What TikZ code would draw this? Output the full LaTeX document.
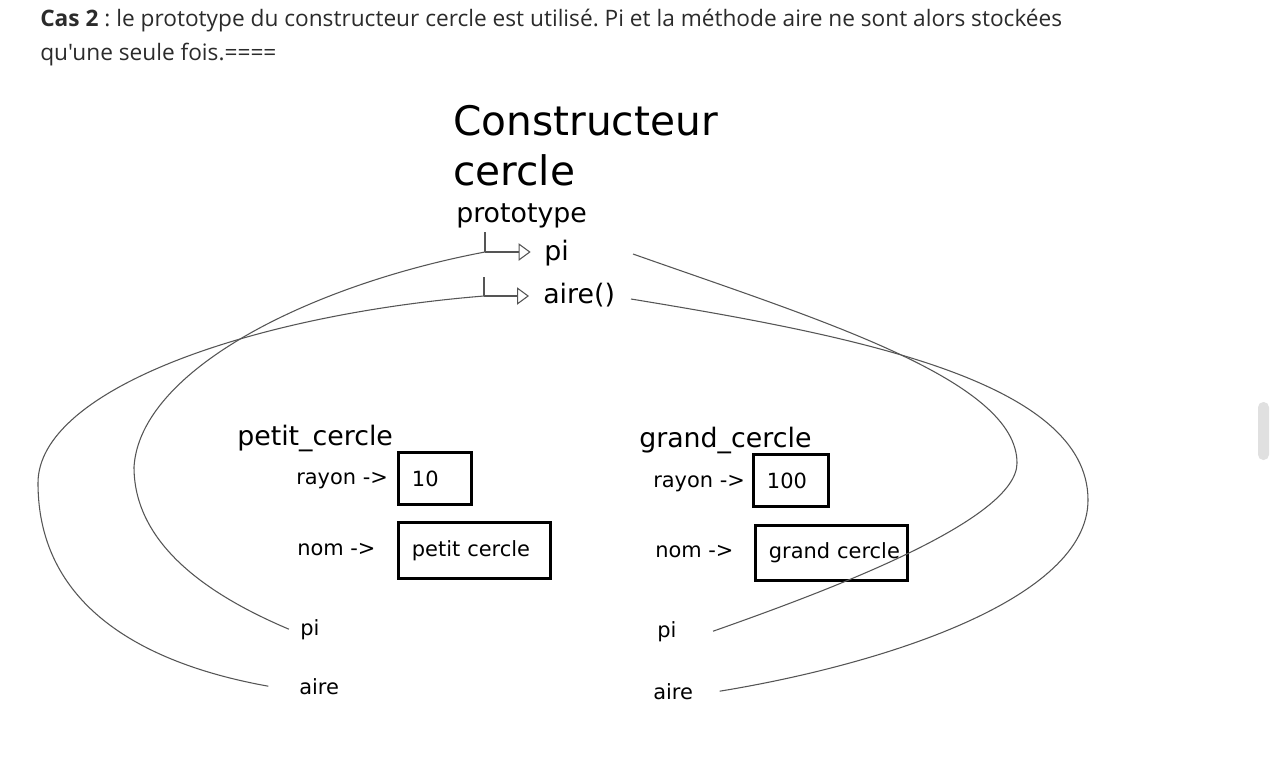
\documentclass[tikz,border=0pt]{standalone}
\usepackage{fontspec}
\setmainfont{DejaVu Sans}
\newfontfamily\hdrfont{Open Sans}
\usetikzlibrary{arrows.meta}
\definecolor{hdrtext}{HTML}{2B2B2B}
\definecolor{linkgray}{HTML}{555555}
\definecolor{scrollgray}{HTML}{E0E0E0}
\frenchspacing
\begin{document}
\begin{tikzpicture}[x=0.75pt,y=-0.75pt,
  lbl/.style={anchor=base west, inner sep=0pt, font=\fontsize{15.7}{19}\selectfont},
  mid/.style={anchor=base west, inner sep=0pt, font=\fontsize{20.1}{24}\selectfont},
  big/.style={anchor=base west, inner sep=0pt, align=left, font=\fontsize{30.5}{37.5}\selectfont},
  valbox/.style={draw, line width=2.4pt, inner xsep=10pt, inner ysep=0pt, align=left, anchor=center, font=\fontsize{15.7}{19}\selectfont},
  link/.style={draw=linkgray, line width=0.8pt},
  hook/.style={link, -{Triangle[open, length=9pt, width=13pt]}}
]
\useasboundingbox (0,0) rectangle (1270,757);
\fill[white] (0,0) rectangle (1270,757);

% header paragraph (base = baseline of last line)
\node[anchor=base west, inner sep=0pt, align=left, text=hdrtext,
      font=\hdrfont\fontsize{17}{25.5}\selectfont] (hdr) at (40,60)
  {\textbf{Cas 2} : le prototype du constructeur cercle est utilisé. Pi et la méthode aire ne sont alors stockées\\qu'une seule fois.====};

% scrollbar
\fill[scrollgray, rounded corners=4pt] (1258,402) rectangle (1269,460);

% constructor
\node[big] (ctor) at (453,185) {Constructeur\\cercle};
\node[mid] (proto) at (456,222) {prototype};
\node[mid] (ppi) at (544,260) {pi};
\node[mid] (paire) at (543,303) {aire()};

\coordinate (hpi) at (485,252);
\coordinate (hpitop) at (485,232);
\coordinate (haire) at (484,296);
\coordinate (hairetop) at (484,277);
\coordinate (rpi) at (633,254);
\coordinate (raire) at (631,299);

\draw[link] (hpitop) -- (hpi);
\draw[hook] (hpi) -- ([xshift=-10pt]ppi.west |- hpi);
\draw[link] (hairetop) -- (haire);
\draw[hook] (haire) -- ([xshift=-10.5pt]paire.west |- haire);

% petit_cercle
\node[mid] (petit) at (237,445) {petit\_cercle};
\node[lbl] (pray) at (296,484) {rayon ->};
\node[valbox, minimum width=54.6pt, text width=34.6pt, minimum height=38.85pt] (b10) at (435,478.5) {10};
\node[lbl] (pnom) at (297,555) {nom ->};
\node[valbox, minimum width=113.9pt, text width=93.9pt, minimum height=41.85pt] (bpc) at (474.5,550.5) {\mbox{petit cercle}};
\node[lbl] (pipi) at (300,635) {pi};
\node[lbl] (piaire) at (299,694) {aire};

% grand_cercle
\node[mid] (grand) at (639,447) {grand\_cercle};
\node[lbl] (gray) at (653,487) {rayon ->};
\node[valbox, minimum width=56.1pt, text width=36.1pt, minimum height=38.85pt] (b100) at (791,480.5) {100};
\node[lbl] (gnom) at (655,557) {nom ->};
\node[valbox, minimum width=113.9pt, text width=93.9pt, minimum height=41.1pt] (bgc) at (831.5,553) {\mbox{grand cercle}};
\node[lbl] (gpi) at (657,637) {pi};
\node[lbl] (gaire) at (653,699) {aire};

% curves
\draw[link] ([xshift=-8.25pt]pipi.west) .. controls (220,600) and (134,550) .. (134,467)
  .. controls (140,370) and (310,285) .. (hpi);
\draw[link] ([xshift=-23pt]piaire.west) .. controls (150,665) and (38,610) .. (38,483)
  .. controls (38,390) and (250,315) .. (haire);
\draw[link] (rpi) .. controls (820,320) and (1017,380) .. (1017,463)
  .. controls (1017,520) and (830,590) .. ([xshift=42pt]gpi.west);
\draw[link] (raire) .. controls (850,335) and (1088,380) .. (1088,500)
  .. controls (1088,600) and (880,665) .. ([xshift=50pt]gaire.west);
\end{tikzpicture}
\end{document}
